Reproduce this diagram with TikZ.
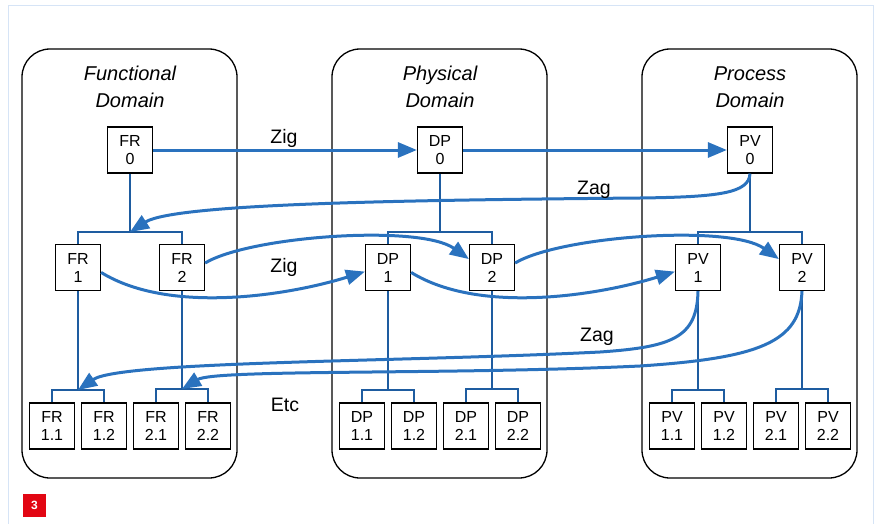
\documentclass[tikz,border=0pt]{standalone}
\usepackage{fontspec}
\setmainfont{Liberation Sans}
\usetikzlibrary{arrows.meta}
\definecolor{arrowblue}{RGB}{42,114,190}
\definecolor{treeblue}{RGB}{30,92,160}
\definecolor{framebl}{RGB}{214,228,246}
\definecolor{badgered}{RGB}{226,6,19}
\tikzset{
  domainbox/.style={draw=black, line width=1.3pt, rounded corners=28pt, minimum width=215pt, minimum height=429pt, inner sep=0pt},
  domaintitle/.style={font=\fontsize{20}{26}\selectfont\itshape, align=center, anchor=base, inner sep=0pt},
  nbox/.style={draw=black, fill=white, line width=1.2pt, minimum width=45pt, minimum height=46pt, inner sep=0pt, align=center, font=\fontsize{16}{18}\selectfont},
  treeline/.style={draw=treeblue, line width=1.6pt},
  bigarrow/.style={draw=arrowblue, line width=3pt, -{Triangle[length=19pt,width=15pt]}},
  lbl/.style={font=\fontsize{19.5}{22}\selectfont, anchor=base, inner sep=0pt}
}
\begin{document}
\begin{tikzpicture}[x=1pt,y=-1pt]
\useasboundingbox (0,0) rectangle (880,524);
% frame
\draw[framebl, line width=1pt] (8,540) -- (8,6) -- (873,6) -- (873,540);
% domains
\node[domainbox] (fd) at (129.5,263.5) {};
\node[domainbox] (pd) at (439.5,263.5) {};
\node[domainbox] (rd) at (749.5,263.5) {};
\node[domaintitle] (fdt) at (130,107) {Functional\\Domain};
\node[domaintitle] (pdt) at (440,107) {Physical\\Domain};
\node[domaintitle] (rdt) at (750,107) {Process\\Domain};
% nodes
\node[nbox] (fr0) at (130,150) {FR\\0};
\node[nbox] (fr1) at (78,267.5) {FR\\1};
\node[nbox] (fr2) at (182,267.5) {FR\\2};
\node[nbox] (fr11) at (52,426) {FR\\1.1};
\node[nbox] (fr12) at (104,426) {FR\\1.2};
\node[nbox] (fr21) at (156,426) {FR\\2.1};
\node[nbox] (fr22) at (208,426) {FR\\2.2};
\node[nbox] (dp0) at (440,150) {DP\\0};
\node[nbox] (dp1) at (388,267.5) {DP\\1};
\node[nbox] (dp2) at (492,267.5) {DP\\2};
\node[nbox] (dp11) at (362,426) {DP\\1.1};
\node[nbox] (dp12) at (414,426) {DP\\1.2};
\node[nbox] (dp21) at (466,426) {DP\\2.1};
\node[nbox] (dp22) at (518,426) {DP\\2.2};
\node[nbox] (pv0) at (750,150) {PV\\0};
\node[nbox] (pv1) at (698,267.5) {PV\\1};
\node[nbox] (pv2) at (802,267.5) {PV\\2};
\node[nbox] (pv11) at (672,426) {PV\\1.1};
\node[nbox] (pv12) at (724,426) {PV\\1.2};
\node[nbox] (pv21) at (776,426) {PV\\2.1};
\node[nbox] (pv22) at (828,426) {PV\\2.2};
% junctions
\coordinate (jf0) at (130,232);
\coordinate (jf1) at (78,390);
\coordinate (jf2) at (182,389);
\coordinate (jd0) at (440,232);
\coordinate (jd1) at (388,390);
\coordinate (jd2) at (492,389);
\coordinate (jp0) at (750,232);
\coordinate (jp1) at (698,390);
\coordinate (jp2) at (802,389);
% tree lines
\foreach \p/\a/\b/\j in {fr0/fr1/fr2/jf0, fr1/fr11/fr12/jf1, fr2/fr21/fr22/jf2,
                         dp0/dp1/dp2/jd0, dp1/dp11/dp12/jd1, dp2/dp21/dp22/jd2,
                         pv0/pv1/pv2/jp0, pv1/pv11/pv12/jp1, pv2/pv21/pv22/jp2}{
  \draw[treeline] (\p.south) -- (\j);
  \draw[treeline] (\a.north) |- (\j) -| (\b.north);
}
% zig arrows
\draw[bigarrow] (fr0.east) -- (dp0.west);
\draw[bigarrow] (dp0.east) -- (pv0.west);
\draw[bigarrow] (fr1.-12) .. controls (170,315) and (290,295) .. (dp1.190);
\draw[bigarrow] (fr2.11) .. controls (250,236) and (420,224) .. (dp2.160);
\draw[bigarrow] (dp1.-12) .. controls (480,315) and (600,295) .. (pv1.190);
\draw[bigarrow] (dp2.11) .. controls (560,236) and (730,224) .. (pv2.160);
% zag arrows
\draw[bigarrow] (pv0.south) .. controls (749,193) and (720,197) .. (640,198)
      .. controls (420,200) and (175,203) .. (jf0);
\draw[bigarrow] (pv1.south) .. controls (697,338) and (672,347) .. (600,352)
      .. controls (400,362) and (120,361) .. (jf1);
\draw[bigarrow] (pv2.south) .. controls (800,342) and (760,358) .. (640,366)
      .. controls (450,375) and (215,369) .. (jf2);
% labels
\node[lbl] (l1) at (284,143) {Zig};
\node[lbl] (l2) at (594,194) {Zag};
\node[lbl] (l3) at (284,272) {Zig};
\node[lbl] (l4) at (597,341) {Zag};
\node[lbl] (l5) at (285,411) {Etc};
% badge
\node[fill=badgered, minimum width=23pt, minimum height=23pt, inner sep=0pt, text=white, font=\fontsize{12}{12}\selectfont\bfseries] (badge) at (34.5,505.5) {3};
\end{tikzpicture}
\end{document}
